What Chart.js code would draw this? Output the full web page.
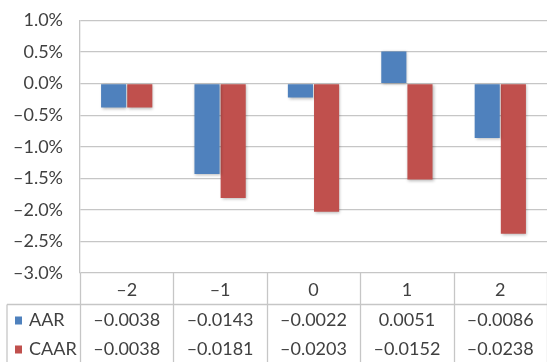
<!DOCTYPE html>
<html>
<head>
<meta charset="utf-8">
<script src="https://cdn.jsdelivr.net/npm/chart.js@4/dist/chart.umd.min.js"></script>
<style>
  html, body { margin: 0; padding: 0; background: #fff; }
  #wrap { width: 547px; height: 362px; position: relative; }
</style>
</head>
<body>
<div id="wrap"><canvas id="c" width="547" height="362"></canvas></div>
<script>
// Event-window days and the two return series (as fractions)
const days = ['–2', '–1', '0', '1', '2'];
const aar  = [-0.0038, -0.0143, -0.0022, 0.0051, -0.0086];
const caar = [-0.0038, -0.0181, -0.0203, -0.0152, -0.0238];
const seriesNames = ['AAR', 'CAAR'];
const seriesColors = ['#4F81BD', '#C0504D'];

const FONT = 'Lato, "Open Sans", sans-serif';
const GRID = '#c6c6c6';
const TEXT = '#404040';

// Excel-style number text: en dash for negatives
const fmt = (v, d) => (v < 0 ? '–' : '') + Math.abs(v).toFixed(d);

// Soft drop shadow behind the bars
const barShadow = {
  id: 'barShadow',
  beforeDatasetsDraw(chart) {
    const ctx = chart.ctx;
    ctx.save();
    ctx.shadowColor = 'rgba(0,0,0,0.28)';
    ctx.shadowBlur = 3;
    ctx.shadowOffsetX = 1;
    ctx.shadowOffsetY = 1;
  },
  afterDatasetsDraw(chart) { chart.ctx.restore(); }
};

// Data table under the plot: category row, then one row per series
const dataTable = {
  id: 'dataTable',
  afterDraw(chart) {
    const ctx = chart.ctx;
    const x = chart.scales.x;
    const area = chart.chartArea;
    const top = area.bottom;
    const rowH = 31.5;
    const r1 = top + rowH;          // under category row
    const bottom = chart.height;
    const legendLeft = 7;
    const half = (x.getPixelForValue(1) - x.getPixelForValue(0)) / 2;

    ctx.save();
    ctx.strokeStyle = GRID;
    ctx.lineWidth = 1.3;
    ctx.beginPath();
    ctx.moveTo(legendLeft, r1); ctx.lineTo(chart.width, r1);
    ctx.stroke();
    ctx.beginPath();
    ctx.moveTo(legendLeft, r1); ctx.lineTo(legendLeft, bottom);
    ctx.stroke();
    for (let i = 0; i <= days.length; i++) {
      const px = Math.round(x.getPixelForValue(i) - half) + 0.5;
      ctx.beginPath();
      ctx.moveTo(px, top); ctx.lineTo(px, bottom);
      ctx.stroke();
    }

    ctx.fillStyle = TEXT;
    ctx.font = '18px ' + FONT;
    ctx.textAlign = 'center';
    ctx.textBaseline = 'middle';
    days.forEach((d, i) => ctx.fillText(d, x.getPixelForValue(i), top + rowH / 2 + 1));

    const rows = [aar, caar];
    rows.forEach((vals, r) => {
      const cy = r1 + 16 + r * 29;
      vals.forEach((v, i) => {
        ctx.fillStyle = TEXT;
        ctx.textAlign = 'center';
        ctx.fillText(fmt(v, 4), x.getPixelForValue(i), cy);
      });
      ctx.fillStyle = seriesColors[r];
      ctx.fillRect(15, cy - 4, 7, 8);
      ctx.fillStyle = TEXT;
      ctx.textAlign = 'left';
      ctx.fillText(seriesNames[r], 29, cy);
    });
    ctx.restore();
  }
};

new Chart(document.getElementById('c'), {
  type: 'bar',
  data: {
    labels: days,
    datasets: [
      { label: seriesNames[0], data: aar.map(v => v * 100), backgroundColor: seriesColors[0] },
      { label: seriesNames[1], data: caar.map(v => v * 100), backgroundColor: seriesColors[1] }
    ]
  },
  options: {
    responsive: false,
    animation: false,
    devicePixelRatio: 1,
    layout: { padding: { left: 0, top: 20.5, right: 0, bottom: 89 } },
    datasets: {
      bar: {
        categoryPercentage: 0.56,
        barPercentage: 0.96,
        borderWidth: 0
      }
    },
    plugins: {
      legend: { display: false },
      tooltip: { enabled: false }
    },
    scales: {
      x: {
        display: false,
        offset: true
      },
      y: {
        min: -3,
        max: 1,
        afterFit(scale) { scale.width = 80; },
        ticks: {
          stepSize: 0.5,
          padding: 2,
          color: TEXT,
          font: { family: FONT, size: 18 },
          callback: v => fmt(v, 1) + '%'
        },
        grid: {
          color: GRID,
          lineWidth: 1.3,
          drawTicks: true,
          tickLength: 15,
          tickColor: 'rgba(0,0,0,0)'
        },
        border: { display: true, color: GRID, width: 1.3 }
      }
    }
  },
  plugins: [barShadow, dataTable]
});
</script>
</body>
</html>
